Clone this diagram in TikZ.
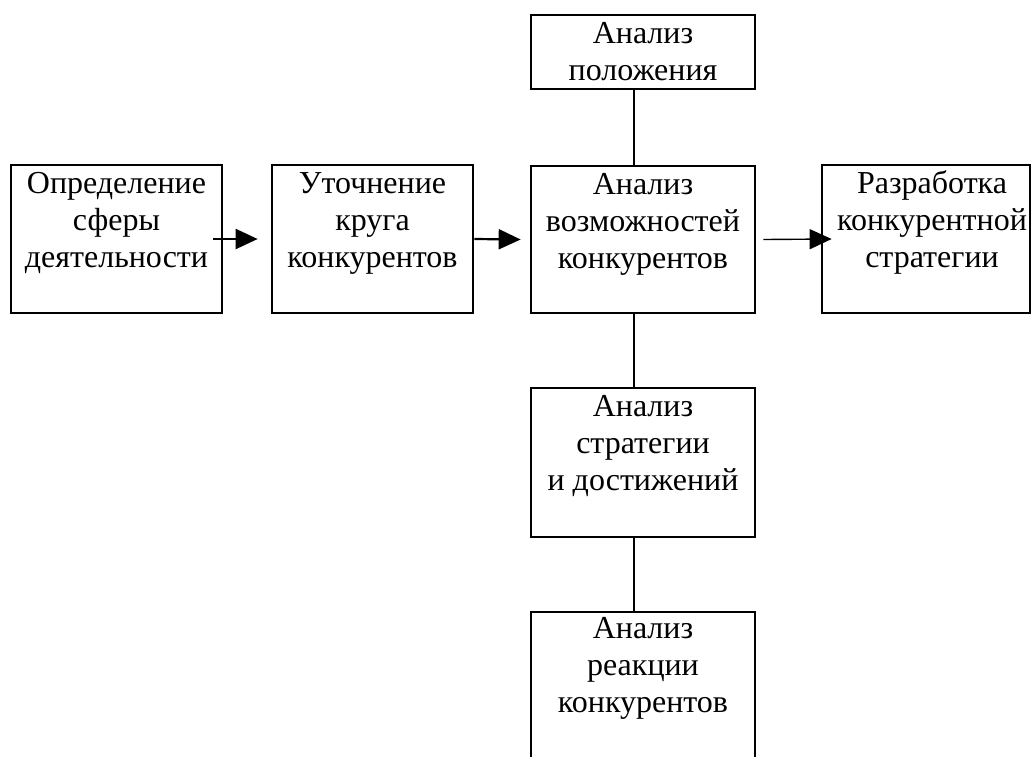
\documentclass[tikz,border=0pt]{standalone}
\usepackage{fontspec}
\setmainfont{Liberation Serif}
\usetikzlibrary{arrows.meta}
\newcommand\mylines[1]{\begin{tabular}[t]{@{}c@{}}#1\end{tabular}}
\tikzset{
  box/.style={draw, line width=1.35pt, rectangle, inner sep=0pt, minimum height=74pt},
  txt/.style={anchor=base, inner sep=0pt, font=\fontsize{16pt}{18.35pt}\selectfont},
  arr/.style={line width=1.1pt, -{Triangle[length=11pt,width=10pt]}},
  link/.style={line width=1pt}
}
\begin{document}
\begin{tikzpicture}[x=0.5pt,y=-0.5pt]
\useasboundingbox (0,0) rectangle (1031,756);
\clip (0,0) rectangle (1031,756);
% boxes
\node[box, minimum width=105.5pt] (b1) at (116.5,239) {};
\node[box, minimum width=100.5pt] (b2) at (372.5,239) {};
\node[box, minimum width=112pt, minimum height=73.5pt] (b3) at (643,239.5) {};
\node[box, minimum width=104pt] (b4) at (926,239) {};
\node[box, minimum width=112pt, minimum height=37pt] (top) at (643,52) {};
\node[box, minimum width=112pt, minimum height=74.5pt] (b5) at (643,462.5) {};
\node[box, minimum width=112pt] (b6) at (643,686) {};
% texts
\node[txt] (t1) at ([yshift=-15pt]b1.north) {\mylines{Определение\\сферы\\деятельности}};
\node[txt] (t2) at ([yshift=-15pt]b2.north) {\mylines{Уточнение\\круга\\конкурентов}};
\node[txt] (t3) at ([yshift=-15pt]b3.north) {\mylines{Анализ\\возможностей\\конкурентов}};
\node[txt] (t4) at ([xshift=3pt,yshift=-15pt]b4.north) {\mylines{Разработка\\конкурентной\\стратегии}};
\node[txt] (tt) at ([yshift=-15pt]top.north) {\mylines{Анализ\\положения}};
\node[txt] (t5) at ([yshift=-15pt]b5.north) {\mylines{Анализ\\стратегии\\и достижений}};
\node[txt] (t6) at ([yshift=-14pt]b6.north) {\mylines{Анализ\\реакции\\конкурентов}};
% arrows
\draw[arr] ([xshift=-5pt]b1.east) -- ([xshift=-6.5pt]b2.west);
\draw[arr] (b2.east) -- ([xshift=-4.5pt]b3.west);
\draw[arr, line width=0.7pt] ([xshift=3.5pt]b3.east) -- ([xshift=5.5pt]b4.west);
% vertical links
\draw[link] ([xshift=-4.5pt]top.south) -- ([xshift=-4.5pt]b3.north);
\draw[link] ([xshift=-4.5pt]b3.south) -- ([xshift=-4.5pt]b5.north);
\draw[link] ([xshift=-4.5pt]b5.south) -- ([xshift=-4.5pt]b6.north);
\end{tikzpicture}
\end{document}
